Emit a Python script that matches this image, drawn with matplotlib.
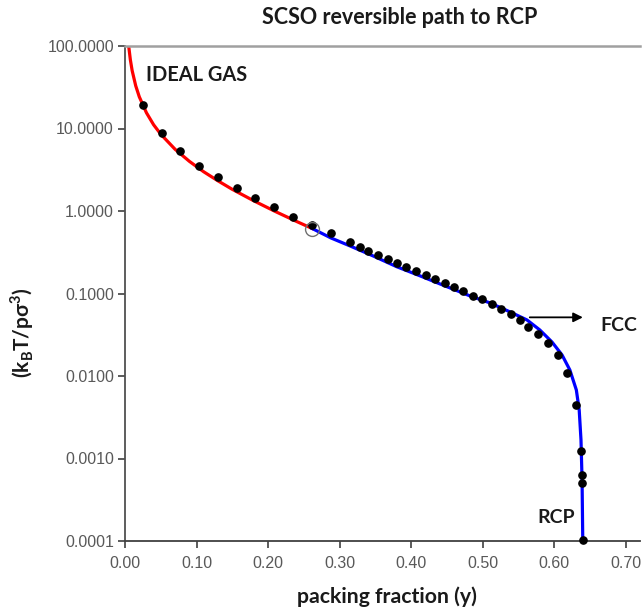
import matplotlib
matplotlib.use("Agg")
import matplotlib.pyplot as plt
from matplotlib.ticker import FixedLocator, FuncFormatter
import numpy as np

# ideal-gas branch (red line)
gas_x = [0.004, 0.005, 0.0075, 0.010, 0.015, 0.020, 0.030, 0.040, 0.050, 0.070,
         0.090, 0.110, 0.130, 0.150, 0.180, 0.210, 0.240, 0.262]
gas_y = [130.0, 102.6, 68.0, 50.3, 32.9, 24.2, 15.5, 11.1, 8.53, 5.60,
         4.00, 2.99, 2.32, 1.83, 1.33, 0.988, 0.746, 0.612]

# path to RCP (blue line)
rcp_x = [0.262, 0.288, 0.315, 0.347, 0.380, 0.413, 0.441, 0.462, 0.483, 0.5105,
         0.5385, 0.562, 0.580, 0.597, 0.611, 0.622, 0.631, 0.635, 0.6375, 0.639, 0.640]
rcp_y = [0.612, 0.471, 0.376, 0.285, 0.211, 0.163, 0.130, 0.110, 0.093, 0.0768,
         0.0597, 0.0478, 0.0361, 0.0258, 0.0180, 0.0118, 0.00677, 0.00387, 0.00168, 0.000548, 0.0001]

# simulation points (black dots)
sim_x = [0.025, 0.052, 0.077, 0.103, 0.130, 0.157, 0.182, 0.208, 0.235, 0.262,
         0.288, 0.315, 0.328, 0.340, 0.354, 0.367, 0.380, 0.393, 0.407, 0.421,
         0.434, 0.447, 0.460, 0.473, 0.486, 0.499, 0.513, 0.526, 0.539, 0.552,
         0.564, 0.578, 0.591, 0.605, 0.618, 0.631, 0.638, 0.639, 0.639, 0.641]
sim_y = [19.3, 8.82, 5.34, 3.51, 2.58, 1.90, 1.44, 1.11, 0.853, 0.677,
         0.537, 0.418, 0.369, 0.330, 0.293, 0.262, 0.234, 0.211, 0.189, 0.169,
         0.149, 0.133, 0.119, 0.106, 0.0933, 0.0851, 0.0740, 0.0643, 0.0565, 0.0478,
         0.0396, 0.0323, 0.0249, 0.0180, 0.0110, 0.00442, 0.00124, 0.00063, 0.00051, 0.000103]

# switch point (open circle)
switch_x = [0.262]
switch_y = [0.60]

y_ticks = [0.0001, 0.001, 0.01, 0.1, 1, 10, 100]
x_ticks = [0.0, 0.1, 0.2, 0.3, 0.4, 0.5, 0.6, 0.7]

fig = plt.figure(figsize=(6.42, 6.09), dpi=100)
ax = fig.add_axes([125 / 642, (609 - 541) / 609, 515 / 642, 495 / 609])

ax.plot(gas_x, gas_y, color="#ff0000", lw=2.3, zorder=2)
ax.plot(rcp_x, rcp_y, color="#0000ff", lw=2.3, zorder=2)
ax.plot(sim_x, sim_y, "o", color="black", ms=5.2, zorder=3, clip_on=False)
ax.plot(switch_x, switch_y, "o", mfc="none", mec="#707070", mew=1.0, ms=10, zorder=4)

ax.set_yscale("log")
ax.set_ylim(0.0001, 100)
ax.set_xlim(0, 0.72)
ax.yaxis.set_major_locator(FixedLocator(y_ticks))
ax.yaxis.set_minor_locator(FixedLocator([]))
ax.yaxis.set_major_formatter(FuncFormatter(lambda v, p: f"{v:.4f}"))
ax.xaxis.set_major_locator(FixedLocator(x_ticks))
ax.xaxis.set_major_formatter(FuncFormatter(lambda v, p: f"{v:.2f}"))

for lab in ax.get_xticklabels() + ax.get_yticklabels():
    lab.set_fontfamily("Liberation Sans")
    lab.set_fontsize(11.5)
ax.tick_params(axis="both", colors="#404040", labelcolor="#595959", length=5, width=1.2, direction="out")
ax.tick_params(axis="x", pad=6)
ax.tick_params(axis="y", pad=3)

ax.spines["right"].set_visible(False)
ax.spines["top"].set_color("#a0a0a0")
ax.spines["top"].set_linewidth(1.8)
ax.spines["left"].set_color("#505050")
ax.spines["left"].set_linewidth(1.3)
ax.spines["bottom"].set_color("#404040")
ax.spines["bottom"].set_linewidth(1.3)

bold = {"family": "Lato", "weight": "bold", "color": "#1a1a1a"}
ax.text(0.029, 45, "IDEAL GAS", fontsize=14.4, va="center", ha="left", **bold)
ax.text(0.664, 0.0415, "FCC", fontsize=14, va="center", ha="left", **bold)
ax.text(0.629, 0.000195, "RCP", fontsize=14, va="center", ha="right", **bold)
ax.annotate("", xy=(0.644, 0.0514), xytext=(0.562, 0.0514),
            arrowprops=dict(arrowstyle="-|>", color="black", lw=1.3, mutation_scale=14))

fig.text(400 / 642, 1 - 18 / 609, "SCSO reversible path to RCP", fontsize=15.5,
         ha="center", va="center", **bold)
fig.text(387 / 642, 1 - 597 / 609, "packing fraction (y)", fontsize=15.3,
         ha="center", va="center", **bold)
fig.text(22 / 642, 1 - 333 / 609, r"(k$_\mathregular{B}$T/pσ$^\mathregular{3}$)", fontsize=15,
         ha="center", va="center", rotation=90, **bold)

fig.savefig("out.png", dpi=100)
